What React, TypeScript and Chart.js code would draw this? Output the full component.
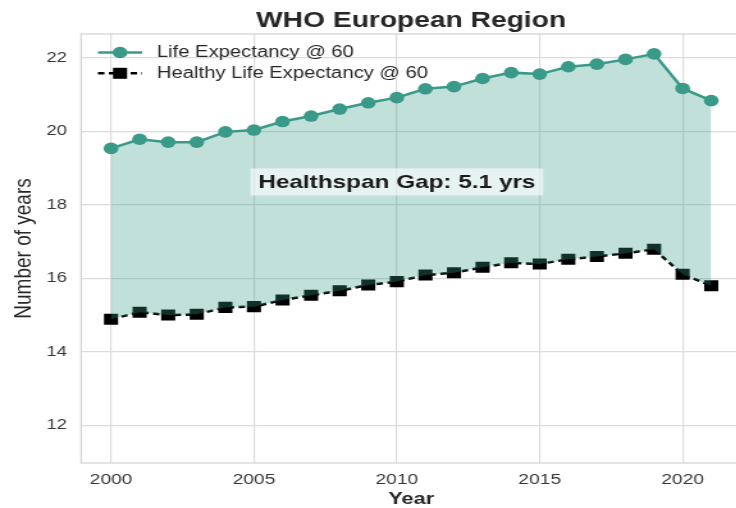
import React, { useEffect, useRef } from "react";
import { Chart, registerables } from "chart.js";

Chart.register(...registerables);

// ---- data ----
const years = [2000, 2001, 2002, 2003, 2004, 2005, 2006, 2007, 2008, 2009, 2010, 2011, 2012, 2013, 2014, 2015, 2016, 2017, 2018, 2019, 2020, 2021];
const lifeExp60 = [19.53, 19.78, 19.70, 19.70, 19.98, 20.03, 20.26, 20.41, 20.60, 20.77, 20.91, 21.15, 21.21, 21.43, 21.59, 21.55, 21.75, 21.82, 21.95, 22.10, 21.16, 20.83];
const healthyLifeExp60 = [14.89, 15.08, 15.00, 15.02, 15.21, 15.23, 15.41, 15.54, 15.66, 15.82, 15.91, 16.09, 16.15, 16.30, 16.42, 16.39, 16.52, 16.59, 16.68, 16.79, 16.11, 15.80];
const xTicks = [2000, 2005, 2010, 2015, 2020];
const yTicks = [12, 14, 16, 18, 20, 22];
const titleText = "WHO European Region";
const xTitleText = "Year";
const yTitleText = "Number of years";
const legendLabels = ["Life Expectancy @ 60", "Healthy Life Expectancy @ 60"];
const gapLabel = "Healthspan Gap: 5.1 yrs";
const gapLabelPos = { x: 2010, y: 18.62 };

// ---- style ----
const SX = 1.28; // horizontal stretch of the reference picture
const W = 642;
const H = 508;
const TEAL = "#3a9a89";
const FILL = "rgba(58,154,137,0.31)";
const GRID = "#dcdcdc";
const FRAME = "#d2d2d2";
const TEXT = "#262626";
const TICK = "#383838";
const FONT = "'Liberation Sans', Arial, Helvetica, sans-serif";

const decor = {
  id: "decor",
  beforeDatasetsDraw(chart: any) {
    const { ctx, chartArea: a } = chart;
    ctx.save();
    ctx.strokeStyle = FRAME;
    ctx.lineWidth = 1.2;
    ctx.strokeRect(a.left, a.top, a.right - a.left, a.bottom - a.top);
    ctx.restore();
  },
  afterDatasetsDraw(chart: any) {
    const { ctx, scales } = chart;
    ctx.save();
    // annotation
    const cx = scales.x.getPixelForValue(gapLabelPos.x);
    const cy = scales.y.getPixelForValue(gapLabelPos.y);
    ctx.font = `bold 19px ${FONT}`;
    const tw = ctx.measureText(gapLabel).width;
    ctx.fillStyle = "rgba(255,255,255,0.6)";
    ctx.fillRect(cx - tw / 2 - 6, cy - 13.5, tw + 12, 27);
    ctx.fillStyle = "#1a1a1a";
    ctx.textAlign = "center";
    ctx.textBaseline = "middle";
    ctx.fillText(gapLabel, cx, cy + 1);

    // legend
    const lx0 = 76.5, lx1 = 111, lxm = (lx0 + lx1) / 2, tx = 122.5;
    const r1 = 52.5, r2 = 73.3;
    ctx.strokeStyle = TEAL;
    ctx.lineWidth = 2.5;
    ctx.beginPath();
    ctx.moveTo(lx0, r1);
    ctx.lineTo(lx1, r1);
    ctx.stroke();
    ctx.fillStyle = TEAL;
    ctx.beginPath();
    ctx.arc(lxm, r1, 5.8, 0, Math.PI * 2);
    ctx.fill();
    ctx.strokeStyle = "#000";
    ctx.setLineDash([5, 3.5]);
    ctx.beginPath();
    ctx.moveTo(lx0, r2);
    ctx.lineTo(lx1, r2);
    ctx.stroke();
    ctx.setLineDash([]);
    ctx.fillStyle = "#000";
    ctx.fillRect(lxm - 5.5, r2 - 5.5, 11, 11);
    ctx.fillStyle = TEXT;
    ctx.font = `15.8px ${FONT}`;
    ctx.textAlign = "left";
    ctx.textBaseline = "middle";
    ctx.fillText(legendLabels[0], tx, r1 + 0.5);
    ctx.fillText(legendLabels[1], tx, r2 + 0.5);
    ctx.restore();
  },
  afterDraw(chart: any) {
    const { ctx, chartArea: a } = chart;
    const mid = (a.left + a.right) / 2;
    ctx.save();
    ctx.fillStyle = TEXT;
    ctx.textAlign = "center";
    ctx.textBaseline = "alphabetic";
    ctx.font = `bold 22px ${FONT}`;
    ctx.fillText(titleText, mid, 26.5);
    ctx.font = `bold 17px ${FONT}`;
    ctx.fillText(xTitleText, mid, 503.5);
    ctx.translate(18.5, (a.top + a.bottom) / 2);
    ctx.rotate(-Math.PI / 2);
    ctx.font = `19px ${FONT}`;
    ctx.textBaseline = "middle";
    ctx.fillText(yTitleText, 0, 0);
    ctx.restore();
  },
};

export default function App() {
  const ref = useRef<HTMLCanvasElement>(null);
  useEffect(() => {
    const canvas = ref.current;
    if (!canvas) return;
    const chart = new Chart(canvas, {
      type: "line",
      data: {
        datasets: [
          {
            label: legendLabels[0],
            data: years.map((x, i) => ({ x, y: lifeExp60[i] })),
            borderColor: TEAL,
            backgroundColor: FILL,
            borderWidth: 2.5,
            pointStyle: "circle",
            pointRadius: 5.8,
            pointBackgroundColor: TEAL,
            pointBorderColor: TEAL,
            pointBorderWidth: 0,
            fill: "+1",
            tension: 0,
          },
          {
            label: legendLabels[1],
            data: years.map((x, i) => ({ x, y: healthyLifeExp60[i] })),
            borderColor: "#000",
            backgroundColor: "#000",
            borderWidth: 2.5,
            borderDash: [5, 3.5],
            pointStyle: "rect",
            pointRadius: 7.8,
            pointBackgroundColor: "#000",
            pointBorderColor: "#000",
            pointBorderWidth: 0,
            fill: false,
            tension: 0,
          },
        ],
      },
      options: {
        responsive: false,
        animation: false,
        devicePixelRatio: 1,
        layout: { padding: { top: 34, right: W - 741 / SX, left: 0, bottom: 0 } },
        plugins: {
          legend: { display: false },
          title: { display: false },
          tooltip: { enabled: false },
        },
        scales: {
          x: {
            type: "linear",
            min: 1998.95,
            max: 2022.05,
            afterBuildTicks: (axis: any) => {
              axis.ticks = xTicks.map((v) => ({ value: v }));
            },
            afterFit: (s: any) => {
              s.height = 45;
            },
            grid: { color: GRID, lineWidth: 1.2, drawTicks: false },
            border: { display: false },
            ticks: {
              color: TICK,
              font: { family: FONT, size: 15 },
              padding: 8,
              maxRotation: 0,
              callback: (v: any) => String(v),
            },
          },
          y: {
            type: "linear",
            min: 10.98,
            max: 22.64,
            afterBuildTicks: (axis: any) => {
              axis.ticks = yTicks.map((v) => ({ value: v }));
            },
            afterFit: (s: any) => {
              s.width = 81 / SX;
            },
            grid: { color: GRID, lineWidth: 1.2, drawTicks: false },
            border: { display: false },
            ticks: {
              color: TICK,
              font: { family: FONT, size: 14.5 },
              padding: 11,
              callback: (v: any) => String(v),
            },
          },
        },
      },
      plugins: [decor],
    } as any);
    return () => chart.destroy();
  }, []);
  return (
    <div style={{ position: "fixed", left: 0, top: 0, width: 736, height: 508, overflow: "hidden", background: "#fff" }}>
      <canvas
        ref={ref}
        width={W}
        height={H}
        style={{ width: `${W * SX}px`, height: `${H}px`, display: "block" }}
      />
    </div>
  );
}
